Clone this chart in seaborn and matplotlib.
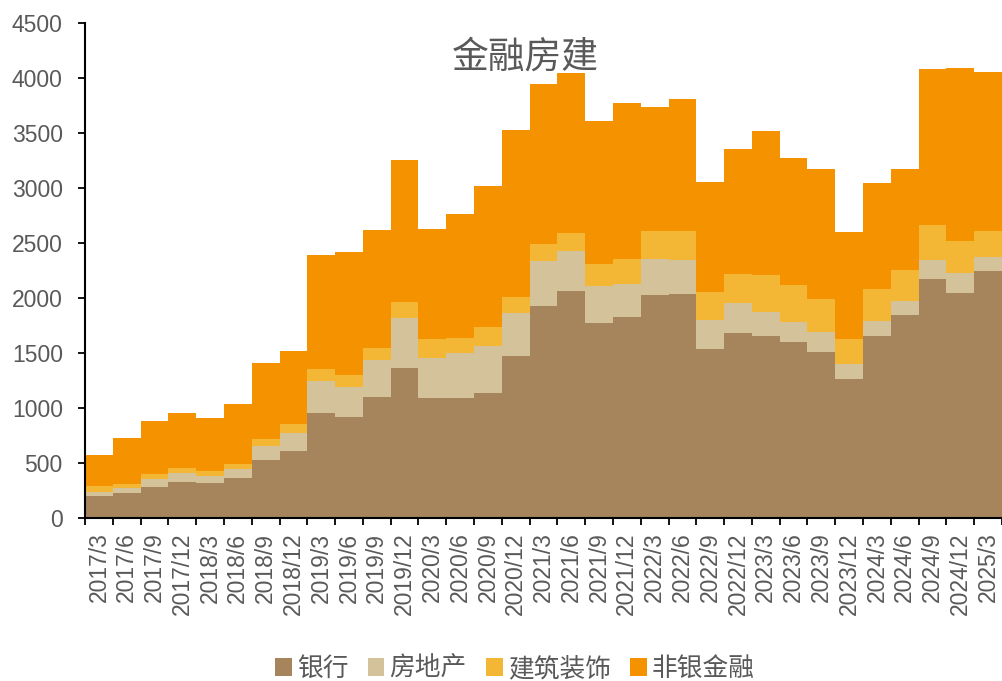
import numpy as np
import pandas as pd
import matplotlib
matplotlib.use("Agg")
import matplotlib.pyplot as plt
from matplotlib.patches import Patch
import seaborn as sns

quarters = ["2017/3", "2017/6", "2017/9", "2017/12",
            "2018/3", "2018/6", "2018/9", "2018/12",
            "2019/3", "2019/6", "2019/9", "2019/12",
            "2020/3", "2020/6", "2020/9", "2020/12",
            "2021/3", "2021/6", "2021/9", "2021/12",
            "2022/3", "2022/6", "2022/9", "2022/12",
            "2023/3", "2023/6", "2023/9", "2023/12",
            "2024/3", "2024/6", "2024/9", "2024/12",
            "2025/3"]

bank = [200, 224, 285, 324, 315, 361, 527, 609,
        951, 921, 1103, 1361, 1094, 1088, 1139, 1473,
        1927, 2067, 1770, 1830, 2027, 2036, 1536, 1679,
        1658, 1603, 1512, 1261, 1658, 1845, 2170, 2048,
        2248]
real_estate = [39, 46, 67, 82, 70, 81, 128, 161,
               294, 273, 333, 454, 357, 409, 428, 388,
               409, 363, 339, 294, 325, 309, 264, 272,
               215, 176, 176, 139, 133, 131, 175, 176,
               128]
construction = [52, 39, 45, 45, 42, 49, 66, 82,
                107, 106, 112, 152, 173, 142, 172, 145,
                152, 158, 197, 228, 257, 267, 258, 264,
                333, 339, 303, 227, 294, 279, 316, 294,
                233]
nonbank = [282, 421, 488, 506, 479, 545, 691, 669,
           1039, 1115, 1070, 1288, 1000, 1128, 1279, 1521,
           1454, 1454, 1300, 1418, 1130, 1194, 993, 1143,
           1312, 1152, 1179, 970, 963, 915, 1418, 1573,
           1446]

series_names = ["银行", "房地产", "建筑装饰", "非银金融"]
colors = ["#A6845C", "#D4C29A", "#F3B735", "#F59200"]

df = pd.DataFrame({"quarter": quarters, "银行": bank, "房地产": real_estate,
                   "建筑装饰": construction, "非银金融": nonbank})
cum = df[series_names].cumsum(axis=1)

sns.set_style("ticks")
plt.rcParams['font.family'] = ['Liberation Sans', 'Noto Sans CJK SC', 'DejaVu Sans']

fig = plt.figure(figsize=(10.02, 6.81), dpi=100)
ax = fig.add_axes([85/1002, (681-518)/681, (1002-85)/1002, (518-23)/681])

# draw from top layer down so lower layers overlay
for name, col in reversed(list(zip(series_names, colors))):
    sns.barplot(x=df["quarter"], y=cum[name], color=col, width=1.0,
                saturation=1, linewidth=0, edgecolor="none", ax=ax,
                order=quarters)

ax.set_xlim(-0.5, len(quarters) - 0.5)
ax.set_ylim(0, 4500)
ax.set_yticks(np.arange(0, 4501, 500))
ax.set_xlabel("")
ax.set_ylabel("")

text_col = "#595959"
ax.set_xticks(np.arange(-0.5, len(quarters), 1.0))
ax.set_xticklabels([])
ax.set_xticks(np.arange(len(quarters)), minor=True)
ax.set_xticklabels(quarters, minor=True, rotation=90, fontsize=16.5,
                   color=text_col, family=['Liberation Sans'])
ax.tick_params(axis="x", which="minor", length=0, pad=10.5)
ax.tick_params(axis="x", which="major", length=5, width=1.3, color="black", direction="out")
ax.tick_params(axis="y", length=5, width=1.3, color="black", direction="out",
               labelsize=16.5, labelcolor=text_col, pad=11)
for lbl in ax.get_yticklabels():
    lbl.set_family(['Liberation Sans'])

sns.despine(ax=ax)
for s in ["left", "bottom"]:
    ax.spines[s].set_color("black")
    ax.spines[s].set_linewidth(1.5)

ax.text(0.48, 0.93, "金融房建", transform=ax.transAxes, ha="center", va="center",
        fontsize=26.5, color=text_col, family=['Noto Sans CJK SC', 'DejaVu Sans'])

handles = [Patch(facecolor=c, edgecolor="none") for c in colors]
fig.legend(handles, series_names, loc="center", bbox_to_anchor=(515/1002, 1 - 669/681),
           ncol=4, frameon=False, handlelength=0.65, handleheight=0.65,
           handletextpad=0.2, columnspacing=0.75,
           prop={"family": ['Noto Sans CJK SC', 'DejaVu Sans'], "size": 18.5},
           labelcolor=text_col)

fig.savefig("out.png", dpi=100)
